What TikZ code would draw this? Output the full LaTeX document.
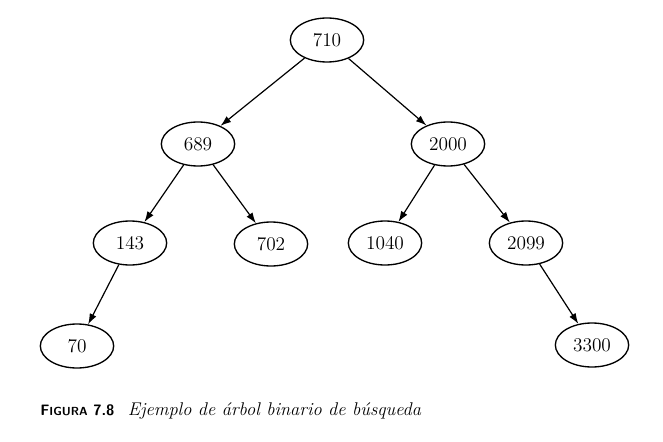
\documentclass[tikz,border=0pt]{standalone}
\usepackage{amsmath, amssymb}
\usepackage{tikz}
\usetikzlibrary{shapes.geometric, arrows.meta}

\tikzset{
  tnode/.style={draw, ellipse, line width=1pt, minimum width=55pt, minimum height=33pt, inner sep=0pt, font=\fontsize{14.5}{16}\selectfont},
  tedge/.style={line width=0.9pt, -{Latex[length=8pt,width=5.5pt]}}
}

\begin{document}
\begin{tikzpicture}[x=0.75pt,y=0.75pt,yscale=-1,xscale=1]

            \useasboundingbox (0,0) rectangle (663,442);

            % Nodes
            \node [tnode] (n710)  at (327, 40) {710};
            \node [tnode] (n689)  at (198,144) {689};
            \node [tnode] (n2000) at (448,144) {2000};
            \node [tnode] (n143)  at (130,243) {143};
            \node [tnode] (n702)  at (271,244) {702};
            \node [tnode] (n1040) at (385,243) {1040};
            \node [tnode] (n2099) at (526,243) {2099};
            \node [tnode] (n70)   at ( 77,346) {70};
            \node [tnode] (n3300) at (592,345) {3300};

            % Edges
            \draw [tedge] (n710)  -- (n689);
            \draw [tedge] (n710)  -- (n2000);
            \draw [tedge] (n689)  -- (n143);
            \draw [tedge] (n689)  -- (n702);
            \draw [tedge] (n2000) -- (n1040);
            \draw [tedge] (n2000) -- (n2099);
            \draw [tedge] (n143)  -- (n70);
            \draw [tedge] (n2099) -- (n3300);

            % Caption
            \node [anchor=base west, inner sep=0pt] (cap) at (40,415) {{\sffamily\bfseries\fontsize{11.3}{13}\selectfont F{\fontsize{8.8}{10}\selectfont IGURA} 7.8}\hspace{10pt}{\itshape\fontsize{13.8}{15}\selectfont Ejemplo de árbol binario de búsqueda}};

\end{tikzpicture}
\end{document}
